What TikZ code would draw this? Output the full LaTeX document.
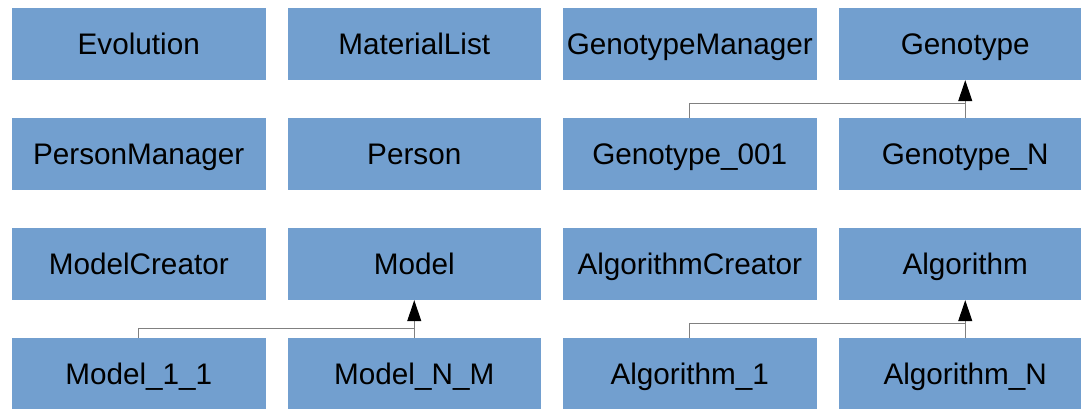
\documentclass[tikz,border=0pt]{standalone}
\usepackage{fontspec}
\setmainfont{Liberation Sans}
\usetikzlibrary{arrows.meta}
\definecolor{boxblue}{HTML}{729FCF}
\definecolor{linegray}{HTML}{808080}
\begin{document}
\begin{tikzpicture}[x=1pt,y=-1pt,
  cls/.style={fill=boxblue, draw=none, minimum width=253.5pt, minimum height=72pt, inner sep=0pt,
    font=\fontsize{29.7}{34}\selectfont, text height=21.3pt, text depth=0pt},
  conn/.style={draw=linegray, line width=1pt},
  inh/.style={conn, -{Triangle[length=21pt,width=14pt,fill=black,color=black]}}]
\useasboundingbox (0,0) rectangle (1081,409);
% row 1
\node[cls] (evolution) at (138.75,44) {Evolution};
\node[cls] (materiallist) at (414.25,44) {MaterialList};
\node[cls] (genotypemanager) at (689.75,44) {GenotypeManager};
\node[cls] (genotype) at (965.25,44) {Genotype};
% row 2
\node[cls] (personmanager) at (138.75,154) {PersonManager};
\node[cls] (person) at (414.25,154) {Person};
\node[cls] (genotype001) at (689.75,154) {Genotype\_001};
\node[cls] (genotypeN) at (965.25,154) {Genotype\_N};
% row 3
\node[cls] (modelcreator) at (138.75,264) {ModelCreator};
\node[cls] (model) at (414.25,264) {Model};
\node[cls] (algorithmcreator) at (689.75,264) {AlgorithmCreator};
\node[cls] (algorithm) at (965.25,264) {Algorithm};
% row 4
\node[cls] (model11) at (138.75,374) {Model\_1\_1};
\node[cls] (modelNM) at (414.25,374) {Model\_N\_M};
\node[cls] (algorithm1) at (689.75,374) {Algorithm\_1};
\node[cls] (algorithmN) at (965.25,374) {Algorithm\_N};
% junctions
\coordinate (jgen) at (965.25,104);
\coordinate (jmod) at (414.25,328);
\coordinate (jalg) at (965.25,323);
% connectors
\draw[conn] (genotype001.north) |- (jgen);
\draw[inh] (genotypeN.north) -- (genotype.south);
\draw[conn] (model11.north) |- (jmod);
\draw[inh] (modelNM.north) -- (model.south);
\draw[conn] (algorithm1.north) |- (jalg);
\draw[inh] (algorithmN.north) -- (algorithm.south);
\end{tikzpicture}
\end{document}
